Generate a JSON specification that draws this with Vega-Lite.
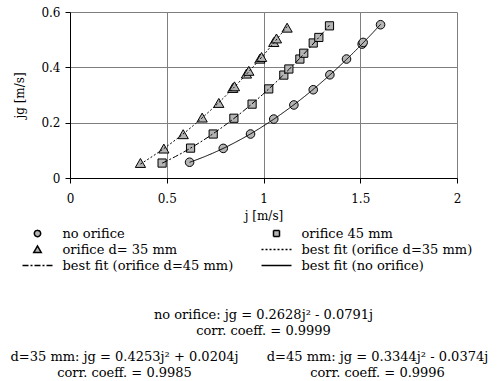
{
  "$schema": "https://vega.github.io/schema/vega-lite/v6.json",
  "background": "white",
  "padding": {"left": 10, "top": 6, "right": 5, "bottom": 2},
  "bounds": "flush",
  "spacing": 122,
  "config": {
    "font": "DejaVu Serif",
    "view": {"stroke": null},
    "axis": {
      "labelFont": "DejaVu Serif", "labelFontSize": 12, "labelColor": "black",
      "titleFont": "DejaVu Serif", "titleFontSize": 12, "titleFontWeight": "normal", "titleColor": "black",
      "domainColor": "black", "tickColor": "black", "tickSize": 5,
      "gridColor": "#7f7f7f", "gridWidth": 1, "gridOpacity": 1,
      "labelPadding": 5, "labelFlush": false
    },
    "text": {"font": "DejaVu Serif", "fontSize": 13, "color": "black"}
  },
  "datasets": {
    "obs": [
      {"j": 0.618, "jg": 0.057, "series": "no orifice", "fit": "best fit (no orifice)"},
      {"j": 0.792, "jg": 0.107, "series": "no orifice", "fit": "best fit (no orifice)"},
      {"j": 0.933, "jg": 0.159, "series": "no orifice", "fit": "best fit (no orifice)"},
      {"j": 1.053, "jg": 0.213, "series": "no orifice", "fit": "best fit (no orifice)"},
      {"j": 1.157, "jg": 0.264, "series": "no orifice", "fit": "best fit (no orifice)"},
      {"j": 1.257, "jg": 0.319, "series": "no orifice", "fit": "best fit (no orifice)"},
      {"j": 1.343, "jg": 0.373, "series": "no orifice", "fit": "best fit (no orifice)"},
      {"j": 1.429, "jg": 0.43, "series": "no orifice", "fit": "best fit (no orifice)"},
      {"j": 1.51, "jg": 0.484, "series": "no orifice", "fit": "best fit (no orifice)"},
      {"j": 1.515, "jg": 0.49, "series": "no orifice", "fit": "best fit (no orifice)"},
      {"j": 1.605, "jg": 0.554, "series": "no orifice", "fit": "best fit (no orifice)"},
      {"j": 0.476, "jg": 0.054, "series": "orifice 45 mm", "fit": "best fit (orifice d=45 mm)"},
      {"j": 0.623, "jg": 0.108, "series": "orifice 45 mm", "fit": "best fit (orifice d=45 mm)"},
      {"j": 0.74, "jg": 0.159, "series": "orifice 45 mm", "fit": "best fit (orifice d=45 mm)"},
      {"j": 0.847, "jg": 0.216, "series": "orifice 45 mm", "fit": "best fit (orifice d=45 mm)"},
      {"j": 0.941, "jg": 0.267, "series": "orifice 45 mm", "fit": "best fit (orifice d=45 mm)"},
      {"j": 1.027, "jg": 0.322, "series": "orifice 45 mm", "fit": "best fit (orifice d=45 mm)"},
      {"j": 1.105, "jg": 0.372, "series": "orifice 45 mm", "fit": "best fit (orifice d=45 mm)"},
      {"j": 1.131, "jg": 0.394, "series": "orifice 45 mm", "fit": "best fit (orifice d=45 mm)"},
      {"j": 1.188, "jg": 0.43, "series": "orifice 45 mm", "fit": "best fit (orifice d=45 mm)"},
      {"j": 1.208, "jg": 0.451, "series": "orifice 45 mm", "fit": "best fit (orifice d=45 mm)"},
      {"j": 1.257, "jg": 0.488, "series": "orifice 45 mm", "fit": "best fit (orifice d=45 mm)"},
      {"j": 1.286, "jg": 0.508, "series": "orifice 45 mm", "fit": "best fit (orifice d=45 mm)"},
      {"j": 1.341, "jg": 0.55, "series": "orifice 45 mm", "fit": "best fit (orifice d=45 mm)"},
      {"j": 0.364, "jg": 0.053, "series": "orifice d= 35 mm", "fit": "best fit (orifice d=35 mm)"},
      {"j": 0.485, "jg": 0.105, "series": "orifice d= 35 mm", "fit": "best fit (orifice d=35 mm)"},
      {"j": 0.585, "jg": 0.157, "series": "orifice d= 35 mm", "fit": "best fit (orifice d=35 mm)"},
      {"j": 0.683, "jg": 0.217, "series": "orifice d= 35 mm", "fit": "best fit (orifice d=35 mm)"},
      {"j": 0.769, "jg": 0.27, "series": "orifice d= 35 mm", "fit": "best fit (orifice d=35 mm)"},
      {"j": 0.841, "jg": 0.324, "series": "orifice d= 35 mm", "fit": "best fit (orifice d=35 mm)"},
      {"j": 0.85, "jg": 0.33, "series": "orifice d= 35 mm", "fit": "best fit (orifice d=35 mm)"},
      {"j": 0.912, "jg": 0.376, "series": "orifice d= 35 mm", "fit": "best fit (orifice d=35 mm)"},
      {"j": 0.924, "jg": 0.386, "series": "orifice d= 35 mm", "fit": "best fit (orifice d=35 mm)"},
      {"j": 0.981, "jg": 0.43, "series": "orifice d= 35 mm", "fit": "best fit (orifice d=35 mm)"},
      {"j": 0.99, "jg": 0.436, "series": "orifice d= 35 mm", "fit": "best fit (orifice d=35 mm)"},
      {"j": 1.053, "jg": 0.49, "series": "orifice d= 35 mm", "fit": "best fit (orifice d=35 mm)"},
      {"j": 1.067, "jg": 0.503, "series": "orifice d= 35 mm", "fit": "best fit (orifice d=35 mm)"},
      {"j": 1.122, "jg": 0.542, "series": "orifice d= 35 mm", "fit": "best fit (orifice d=35 mm)"}
    ],
    "eq": [
      {"block": "no orifice", "label": "no orifice: jg = 0.2628j² - 0.0791j\ncorr. coeff. = 0.9999"},
      {"block": "d=35", "label": "d=35 mm: jg = 0.4253j² + 0.0204j\ncorr. coeff. = 0.9985"},
      {"block": "d=45", "label": "d=45 mm:  jg = 0.3344j² - 0.0374j\ncorr. coeff. = 0.9996"}
    ]
  },
  "vconcat": [
    {
      "width": 387,
      "height": 166,
      "data": {"name": "obs"},
      "layer": [
        {
          "mark": {"type": "point", "filled": true, "fill": "#b4b4b4", "stroke": "black", "strokeWidth": 1, "size": 268, "opacity": 1},
          "encoding": {
            "x": {"field": "j", "type": "quantitative", "scale": {"domain": [0, 2]},
                  "axis": {"values": [0, 0.5, 1, 1.5, 2], "format": "~g", "title": "j [m/s]", "labelPadding": 10, "titlePadding": 6}},
            "y": {"field": "jg", "type": "quantitative", "scale": {"domain": [0, 0.6]},
                  "axis": {"values": [0, 0.2, 0.4, 0.6], "format": "~g", "title": "jg [m/s]", "titlePadding": 14}},
            "shape": {
              "field": "series", "type": "nominal",
              "scale": {
                "domain": ["no orifice", "orifice 45 mm", "orifice d= 35 mm", "best fit (orifice d=35 mm)", "best fit (orifice d=45 mm)", "best fit (no orifice)"],
                "range": ["M0.525,0A0.525,0.525,0,1,1,-0.525,0A0.525,0.525,0,1,1,0.525,0Z", "M-0.5,-0.5H0.5V0.5H-0.5Z", "M0,-0.59L0.625,0.5L-0.625,0.5Z", "M-2.5,0H2.5", "M-2.5,0H2.5", "M-2.5,0H2.5"]
              },
              "legend": {"title": null, "orient": "none", "direction": "horizontal", "legendX": -39.5, "legendY": 214.5, "columns": 2, "columnPadding": 25, "rowPadding": 2, "labelFont": "DejaVu Serif", "labelFontSize": 13, "labelColor": "black", "labelLimit": 400, "labelOffset": 18, "symbolSize": 144, "padding": 0,
                "encode": {"symbols": {"update": {"fill": {"value": "#b4b4b4"}, "stroke": {"value": "black"}, "strokeWidth": {"value": 1}, "opacity": {"value": 1}}}}}
            }
          }
        },
        {
          "transform": [{"regression": "jg", "on": "j", "groupby": ["fit"], "method": "poly", "order": 2}],
          "mark": {"type": "line", "color": "black", "strokeWidth": 1},
          "encoding": {
            "x": {"field": "j", "type": "quantitative"},
            "y": {"field": "jg", "type": "quantitative"},
            "strokeDash": {
              "field": "fit", "type": "nominal",
              "scale": {
                "domain": ["no orifice", "orifice 45 mm", "orifice d= 35 mm", "best fit (orifice d=35 mm)", "best fit (orifice d=45 mm)", "best fit (no orifice)"],
                "range": [[1, 0], [1, 0], [1, 0], [2, 2], [6, 2, 2, 2], [1, 0]]
              },
              "legend": {"title": null, "orient": "none", "direction": "horizontal", "legendX": -39.5, "legendY": 214.5, "columns": 2, "columnPadding": 25, "rowPadding": 2, "labelFont": "DejaVu Serif", "labelFontSize": 13, "labelColor": "black", "labelLimit": 400, "labelOffset": 18, "symbolSize": 144, "padding": 0,
                "encode": {"symbols": {"update": {"fill": {"value": "#b4b4b4"}, "stroke": {"value": "black"}, "strokeWidth": {"value": 1}, "opacity": {"value": 1}}}}}
            }
          }
        }
      ]
    },
    {
      "bounds": "flush",
      "spacing": 0,
      "vconcat": [
        {
          "width": 387, "height": 30,
          "data": {"name": "eq"},
          "transform": [{"filter": "datum.block == 'no orifice'"}],
          "mark": {"type": "text", "lineBreak": "\n", "lineHeight": 16, "align": "center", "baseline": "middle"},
          "encoding": {"text": {"field": "label"}}
        },
        {
          "bounds": "flush",
          "spacing": 144,
          "hconcat": [
            {
              "width": 109, "height": 54,
              "data": {"name": "eq"},
              "transform": [{"filter": "datum.block == 'd=35'"}],
              "mark": {"type": "text", "lineBreak": "\n", "lineHeight": 16, "align": "center", "baseline": "middle"},
              "encoding": {"text": {"field": "label"}}
            },
            {
              "width": 109, "height": 54,
              "data": {"name": "eq"},
              "transform": [{"filter": "datum.block == 'd=45'"}],
              "mark": {"type": "text", "lineBreak": "\n", "lineHeight": 16, "align": "center", "baseline": "middle"},
              "encoding": {"text": {"field": "label"}}
            }
          ]
        }
      ]
    }
  ]
}
